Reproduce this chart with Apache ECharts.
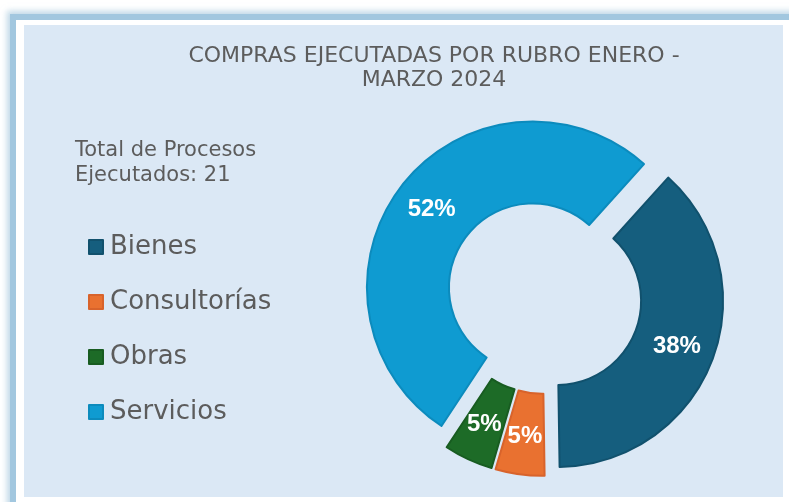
<!DOCTYPE html>
<html>
<head>
	<meta charset="utf-8">
	<title>Compras por rubro</title>
	<script type="text/javascript" src="https://cdn.jsdelivr.net/npm/echarts@6/dist/echarts.min.js"></script>
	<style type="text/css">
		html,body{
			margin:0;
			padding:0;
			width:789px;
			height:502px;
			background:#fff;
			overflow:hidden;
			position:relative;
		}
		.frame{
			position:absolute;
			left:10px;
			top:14px;
			width:800px;
			height:520px;
			border-left:6px solid #a2c7df;
			border-top:6px solid #a2c7df;
			box-shadow:-3px -3px 6px rgba(150,190,215,0.6);
		}
		.charts{
			position:absolute;
			left:24px;
			top:25px;
			width:759px;
			height:472px;
			background:#dbe8f5;
		}
	</style>
</head>
<body>
	<div class="frame"></div>
	<div class="charts" id="chart-1"></div>
<script type="text/javascript">
	// datos
	var rubros = ['Bienes', 'Consultorías', 'Obras', 'Servicios'];
	var procesos = [8, 1, 1, 11];
	var colores = ['#155e7e', '#e97130', '#1d6b27', '#0f9bd1'];
	var bordes = ['#11516d', '#d8632b', '#185c21', '#0c8bbd'];
	var total = 21;

	var myChart = echarts.init(document.getElementById('chart-1'));
	var datos = [];
	for (var i = 0; i < rubros.length; i++) {
		datos.push({
			name: rubros[i],
			value: procesos[i],
			selected: true,
			itemStyle: {color: colores[i], borderColor: bordes[i]}
		});
	}

	var fuente = 'DejaVu Sans';
	var option = {
		backgroundColor: '#dbe8f5',
		animation: false,
		title: {
			text: 'COMPRAS EJECUTADAS POR RUBRO ENERO -\nMARZO 2024',
			left: 405,
			top: 14,
			textAlign: 'center',
			textStyle: {
				fontFamily: fuente,
				fontWeight: 'normal',
				fontSize: 22,
				lineHeight: 24,
				color: '#5c5c5c'
			}
		},
		graphic: [{
			type: 'text',
			left: 51,
			top: 113,
			style: {
				text: 'Total de Procesos\nEjecutados: ' + total,
				font: '21px "DejaVu Sans"',
				lineHeight: 25,
				fill: '#5c5c5c'
			}
		}],
		legend: {
			orient: 'vertical',
			left: 59,
			top: 204,
			icon: 'rect',
			itemWidth: 14,
			itemHeight: 14,
			itemGap: 29,
			selectedMode: false,
			data: rubros,
			textStyle: {
				fontFamily: fuente,
				fontSize: 26,
				lineHeight: 25,
				color: '#5c5c5c',
				padding: [0, 0, 0, 2]
			}
		},
		series: [{
			type: 'pie',
			center: [520, 271],
			radius: [84, 166],
			startAngle: 48,
			clockwise: true,
			selectedMode: 'multiple',
			selectedOffset: 14,
			itemStyle: {borderWidth: 2},
			emphasis: {disabled: true},
			label: {
				show: true,
				position: 'inside',
				fontFamily: 'Liberation Sans',
				fontWeight: 'bold',
				fontSize: 24,
				color: '#fff',
				formatter: function (p) {
					return Math.round(p.percent) + '%';
				}
			},
			labelLine: {show: false},
			data: datos
		}]
	};
	myChart.setOption(option);
</script>
</body>
</html>
